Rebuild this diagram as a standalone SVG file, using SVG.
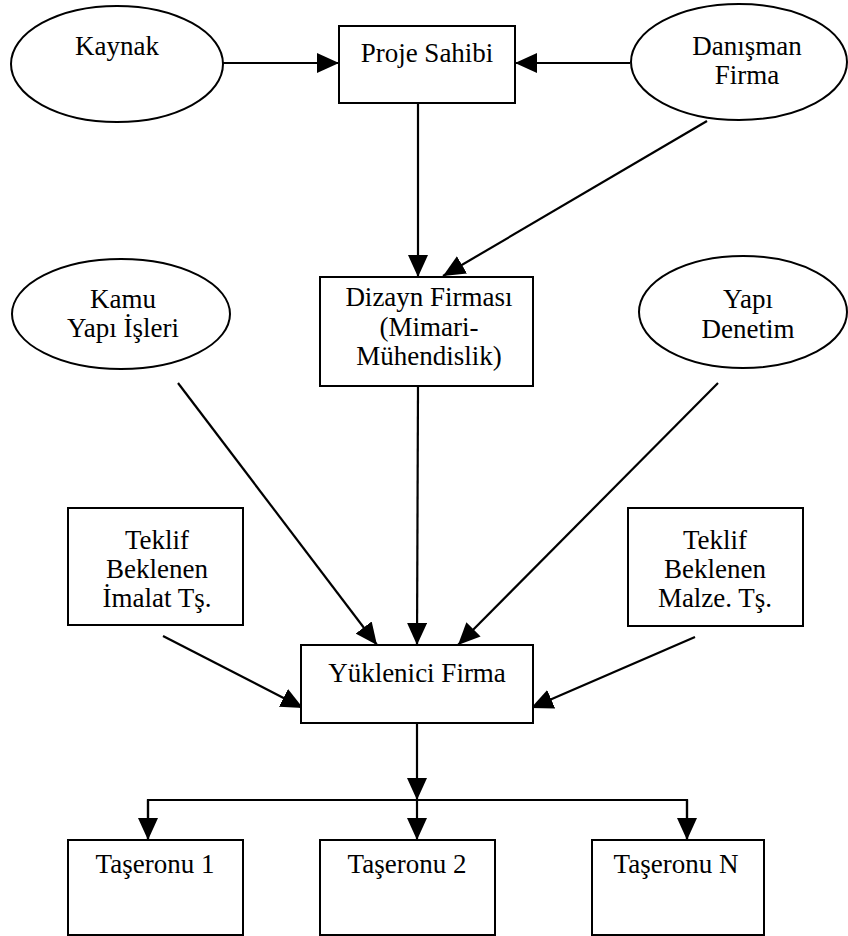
<svg xmlns="http://www.w3.org/2000/svg" width="848" height="936" viewBox="0 0 848 936">
<style>
  .shape { fill: #ffffff; stroke: #000000; stroke-width: 2; }
  .lbl { font-family: "Liberation Serif", "Times New Roman", serif; font-size: 27px; fill: #000000; text-anchor: middle; }
  .conn { stroke: #000000; stroke-width: 2.2; fill: none; }
  .arr { marker-end: url(#ah); }
</style>
<defs>
  <marker id="ah" markerUnits="userSpaceOnUse" markerWidth="22" markerHeight="20" viewBox="0 0 22 20" refX="22" refY="10" orient="auto">
    <path d="M0,0 L22,10 L0,20 Z" fill="#000000"/>
  </marker>
</defs>
<rect width="848" height="936" fill="#ffffff"/>

<g id="connectors">
  <line class="conn arr" x1="223" y1="63" x2="339" y2="63"/>
  <line class="conn arr" x1="630" y1="63" x2="515" y2="63"/>
  <line class="conn arr" x1="418" y1="103" x2="418" y2="277"/>
  <line class="conn arr" x1="707" y1="121" x2="443" y2="276"/>
  <line class="conn arr" x1="178" y1="383" x2="377" y2="645"/>
  <line class="conn arr" x1="418" y1="386" x2="417" y2="645"/>
  <line class="conn arr" x1="718" y1="383" x2="458" y2="645"/>
  <line class="conn arr" x1="163" y1="636" x2="303" y2="708"/>
  <line class="conn arr" x1="695" y1="637" x2="531" y2="708"/>
  <line class="conn arr" x1="417" y1="723" x2="417" y2="800"/>
  <polyline class="conn" points="148,840 148,800 687,800 687,840"/>
  <line class="conn arr" x1="148" y1="800" x2="148" y2="840"/>
  <line class="conn arr" x1="417" y1="800" x2="417" y2="840"/>
  <line class="conn arr" x1="687" y1="800" x2="687" y2="840"/>
</g>

<g id="kaynak">
  <ellipse class="shape" cx="117" cy="64" rx="106" ry="58"/>
  <text class="lbl" x="117" y="55">Kaynak</text>
</g>
<g id="proje-sahibi">
  <rect class="shape" x="339" y="26" width="176" height="77"/>
  <text class="lbl" x="427" y="62">Proje Sahibi</text>
</g>
<g id="danisman-firma">
  <ellipse class="shape" cx="739" cy="62" rx="108" ry="58"/>
  <text class="lbl" x="747" y="55">Danışman</text>
  <text class="lbl" x="747" y="84">Firma</text>
</g>
<g id="dizayn-firmasi">
  <rect class="shape" x="320" y="277" width="213" height="109"/>
  <text class="lbl" x="429" y="306">Dizayn Firması</text>
  <text class="lbl" x="429" y="336">(Mimari-</text>
  <text class="lbl" x="429" y="365">Mühendislik)</text>
</g>
<g id="kamu-yapi-isleri">
  <ellipse class="shape" cx="121" cy="314" rx="109" ry="55"/>
  <text class="lbl" x="123" y="308">Kamu</text>
  <text class="lbl" x="123" y="337">Yapı İşleri</text>
</g>
<g id="yapi-denetim">
  <ellipse class="shape" cx="743" cy="312" rx="104" ry="56"/>
  <text class="lbl" x="748" y="308">Yapı</text>
  <text class="lbl" x="748" y="338">Denetim</text>
</g>
<g id="teklif-imalat">
  <rect class="shape" x="68" y="508" width="175" height="117"/>
  <text class="lbl" x="157" y="549">Teklif</text>
  <text class="lbl" x="157" y="578">Beklenen</text>
  <text class="lbl" x="157" y="607">İmalat Tş.</text>
</g>
<g id="teklif-malzeme">
  <rect class="shape" x="628" y="508" width="175" height="118"/>
  <text class="lbl" x="715" y="549">Teklif</text>
  <text class="lbl" x="715" y="578">Beklenen</text>
  <text class="lbl" x="715" y="607">Malze. Tş.</text>
</g>
<g id="yuklenici-firma">
  <rect class="shape" x="301" y="645" width="232" height="78"/>
  <text class="lbl" x="417" y="682">Yüklenici Firma</text>
</g>
<g id="taseronu-1">
  <rect class="shape" x="68" y="840" width="175" height="95"/>
  <text class="lbl" x="155" y="873">Taşeronu 1</text>
</g>
<g id="taseronu-2">
  <rect class="shape" x="320" y="840" width="175" height="95"/>
  <text class="lbl" x="407" y="873">Taşeronu 2</text>
</g>
<g id="taseronu-n">
  <rect class="shape" x="592" y="840" width="172" height="95"/>
  <text class="lbl" x="676" y="873">Taşeronu N</text>
</g>
</svg>
